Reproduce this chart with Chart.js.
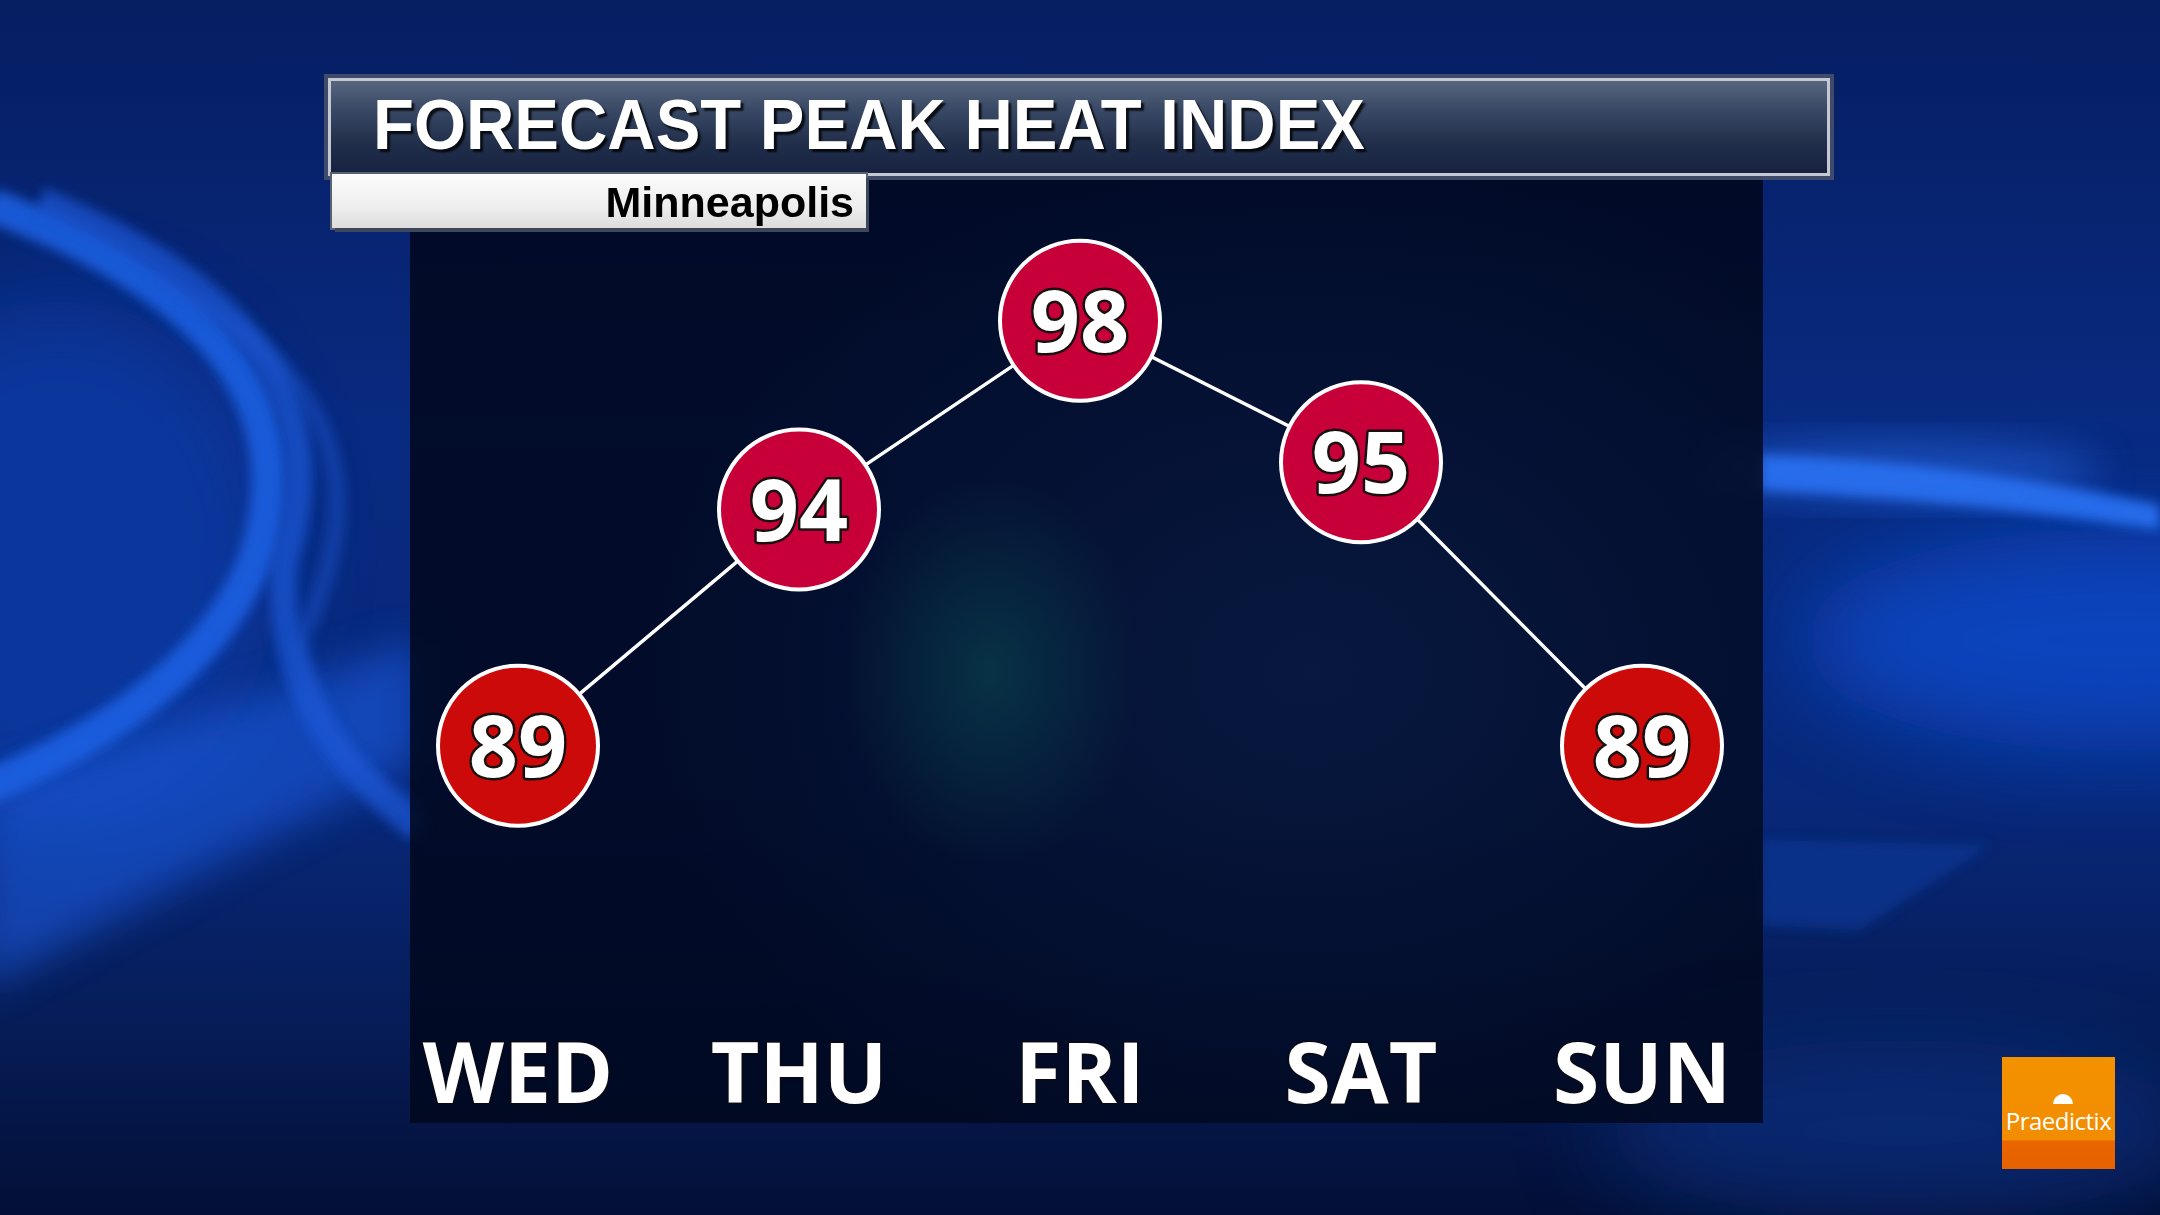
<!DOCTYPE html>
<html>
<head>
<meta charset="utf-8">
<script src="https://cdn.jsdelivr.net/npm/chart.js@4.4.1/dist/chart.umd.min.js"></script>
<style>
html,body{margin:0;padding:0;}
body{width:2160px;height:1215px;overflow:hidden;position:relative;background:#072062;
 font-family:"Liberation Sans",Arial,sans-serif;}
#bg{position:absolute;left:0;top:0;}
#panel{position:absolute;left:410px;top:172px;width:1353px;height:951px;
 background:
  radial-gradient(ellipse 200px 260px at 580px 500px, rgba(10,90,90,0.45), rgba(10,90,90,0) 75%),
  radial-gradient(ellipse 900px 700px at 900px 500px, rgba(20,50,110,0.3), rgba(20,50,110,0) 75%),
  rgba(1,8,30,0.87);}
#titlebar{position:absolute;left:328px;top:78px;width:1496px;height:92px;
 border:3px solid #c3c8d2;box-shadow:0 0 0 4px rgba(70,80,105,0.9);
 background:linear-gradient(180deg,#56667f 0%,#3a4a66 30%,#22304c 65%,#172240 100%);}
#title{position:absolute;left:373px;top:90px;font-size:70px;line-height:1;font-weight:bold;color:#fff;
 white-space:nowrap;transform-origin:0 0;text-shadow:3px 3px 2px rgba(0,0,0,0.8);}
#subbox{position:absolute;left:332px;top:174px;width:534px;height:54px;
 background:linear-gradient(180deg,#fbfbfb 0%,#eeeeee 60%,#dcdcdc 100%);
 box-shadow:3px 4px 0 #3e4659, 0 0 0 2px #586072;}
#sub{position:absolute;right:calc(2160px - 854px);top:181px;font-size:43px;line-height:1;font-weight:bold;color:#000;white-space:nowrap;}
#chartwrap{position:absolute;left:0;top:0;width:2160px;height:1215px;}
#logo{position:absolute;left:2002px;top:1057px;width:113px;height:112px;
 background:linear-gradient(180deg,#f39200 0%,#f28c00 74%,#e96500 75%,#e66200 100%);}
#logo span{position:absolute;left:0;width:113px;top:52px;text-align:center;color:#fff;font-family:"Open Sans",sans-serif;font-size:24px;line-height:1;letter-spacing:-0.5px;}
#umb{position:absolute;left:51px;top:37px;width:20px;height:10px;border-radius:10px 10px 0 0;background:#fff;}
</style>
</head>
<body>
<svg id="bg" width="2160" height="1215" viewBox="0 0 2160 1215">
 <defs>
  <linearGradient id="base" x1="0" y1="0" x2="0" y2="1">
   <stop offset="0" stop-color="#061e62"/>
   <stop offset="0.35" stop-color="#082a80"/>
   <stop offset="0.65" stop-color="#08287a"/>
   <stop offset="0.85" stop-color="#061c56"/>
   <stop offset="1" stop-color="#030f36"/>
  </linearGradient>
  <filter id="b6" x="-20%" y="-20%" width="140%" height="140%"><feGaussianBlur stdDeviation="6"/></filter>
  <filter id="b20" x="-30%" y="-30%" width="160%" height="160%"><feGaussianBlur stdDeviation="20"/></filter>
  <filter id="b45" x="-50%" y="-50%" width="200%" height="200%"><feGaussianBlur stdDeviation="45"/></filter>
 </defs>
 <rect width="2160" height="1215" fill="url(#base)"/>
 <!-- left crescent interior glow -->
 <ellipse cx="60" cy="560" rx="220" ry="260" fill="#0c3fb0" opacity="0.6" filter="url(#b45)"/>
 <!-- lower broad arm -->
 <path d="M -20 790 Q 250 700 420 640 L 420 760 Q 220 860 -20 990 Z" fill="#1a5fe8" opacity="0.55" filter="url(#b20)"/>
 <!-- inner bright band -->
 <path d="M -10 205 Q 330 330 255 560 Q 200 700 -20 790" fill="none" stroke="#1f62e6" stroke-width="34" opacity="0.85" filter="url(#b6)"/>
 <!-- outer bands -->
 <path d="M 40 200 Q 360 330 285 560 Q 270 720 420 830" fill="none" stroke="#1c58d8" stroke-width="26" opacity="0.7" filter="url(#b6)"/>
 <path d="M 150 280 Q 420 400 300 640 Q 320 760 420 810" fill="none" stroke="#1a55d0" stroke-width="18" opacity="0.45" filter="url(#b6)"/>
 <!-- right glows -->
 <ellipse cx="2120" cy="640" rx="320" ry="110" fill="#0f4fd8" opacity="0.7" filter="url(#b45)"/>
 <path d="M 1760 455 Q 1960 462 2160 505 L 2160 530 Q 1960 500 1760 490 Z" fill="#2a72f4" opacity="0.9" filter="url(#b6)"/>
 <ellipse cx="1900" cy="470" rx="200" ry="30" fill="#2a70f0" opacity="0.5" filter="url(#b20)"/>
 <path d="M 1760 840 L 1990 845 L 1860 930 L 1760 925 Z" fill="#0d3a9c" opacity="0.6" filter="url(#b6)"/>
 <ellipse cx="1900" cy="1130" rx="300" ry="90" fill="#0c3a9a" opacity="0.5" filter="url(#b45)"/>
</svg>
<div id="panel"></div>
<div id="chartwrap"><canvas id="c" width="2160" height="1215"></canvas></div>
<div id="titlebar"></div>
<div id="title">FORECAST PEAK HEAT INDEX</div>
<div id="subbox"></div>
<div id="sub">Minneapolis</div>
<div id="logo"><div id="umb"></div><span>Praedictix</span></div>
<script>
const days = ['WED','THU','FRI','SAT','SUN'];
const heatIndex = [89, 94, 98, 95, 89];
const pointColors = ['#cc0a0a','#c8003a','#c8003a','#c8003a','#cc0a0a'];
const yMin = 83, yMax = 101;

// fit title width
(function(){
  const t = document.getElementById('title');
  const w = t.getBoundingClientRect().width;
  t.style.transform = 'scaleX(' + (992 / w) + ')';
})();

const valueLabels = {
  id: 'valueLabels',
  afterDatasetsDraw(chart) {
    const ctx = chart.ctx;
    const meta = chart.getDatasetMeta(0);
    ctx.save();
    ctx.font = 'bold 86px "Open Sans"';
    ctx.textAlign = 'center';
    ctx.textBaseline = 'alphabetic';
    ctx.lineJoin = 'round';
    meta.data.forEach((pt, i) => {
      const txt = String(chart.data.datasets[0].data[i]);
      const y = pt.y + 31;
      ctx.lineWidth = 5;
      ctx.strokeStyle = '#1a1010';
      ctx.strokeText(txt, pt.x, y);
      ctx.fillStyle = '#ffffff';
      ctx.fillText(txt, pt.x, y);
    });
    ctx.restore();
  }
};

new Chart(document.getElementById('c'), {
  type: 'line',
  data: {
    labels: days,
    datasets: [{
      data: heatIndex,
      borderColor: '#ffffff',
      borderWidth: 3.5,
      pointRadius: 80,
      pointHoverRadius: 80,
      pointBorderWidth: 4,
      pointBorderColor: '#ffffff',
      pointBackgroundColor: pointColors,
      tension: 0,
      clip: false
    }]
  },
  options: {
    responsive: false,
    devicePixelRatio: 1,
    animation: false,
    events: [],
    layout: { padding: { left: 518, right: 518, top: 179, bottom: 0 } },
    plugins: { legend: { display: false }, tooltip: { enabled: false } },
    scales: {
      x: {
        grid: { display: false },
        border: { display: false },
        afterFit(scale) { scale.height = 186; },
        ticks: {
          color: '#ffffff',
          padding: 0,
          font: { family: '"Open Sans"', weight: 'bold', size: 84, lineHeight: 1 },
          textStrokeColor: 'rgba(10,10,20,0.9)',
          textStrokeWidth: 3
        }
      },
      y: { display: false, min: yMin, max: yMax }
    }
  },
  plugins: [valueLabels]
});
</script>
</body>
</html>
